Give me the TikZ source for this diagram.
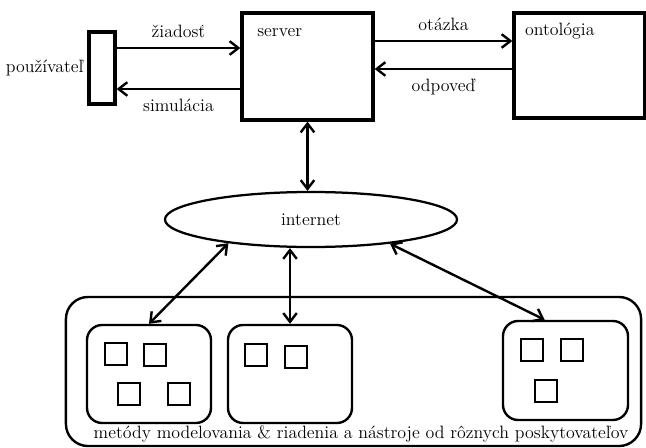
\documentclass[tikz,border=0pt]{standalone}
\usepackage{fontspec}
\usepackage{tikz}
\usetikzlibrary{positioning,shapes,arrows.meta}

\begin{document}
\begin{tikzpicture}[->,>={Straight Barb[length=2.2mm,width=3.4mm]},line width=1.4pt,auto,
          x=0.025cm,y=-0.025cm,font=\fontsize{12.7}{15}\selectfont]
            \tikzstyle{frame}=[draw, line width=2.3pt, inner sep=0pt]
            \tikzstyle{toolbox}=[draw, line width=1.7pt, rounded corners=0.38cm, inner sep=0pt,
                                 minimum width=3.1cm, minimum height=2.45cm]
            \tikzstyle{tool}=[draw, line width=2.1pt, minimum size=0.55cm, inner sep=0pt]
            \tikzstyle{every edge}=[draw, line width=1.7pt]
            \useasboundingbox (0,0) rectangle (646,448);
            % top part
            \node[frame, minimum width=0.65cm, minimum height=1.8cm,
                  label={[inner sep=2pt]left:používateľ}] (user) at (102,68) {};
            \node[frame, minimum width=3.275cm, minimum height=2.675cm,
                  label={[anchor=north west, xshift=8pt, yshift=-8pt]north west:server}] (server) at (307.5,66.5) {};
            \node[frame, minimum width=3.275cm, minimum height=2.625cm,
                  label={[anchor=north west, xshift=5pt, yshift=-4pt]north west:ontológia}] (onto) at (579.5,65.5) {};
            \node[draw, ellipse, line width=1.6pt, inner sep=0pt, minimum width=7.3cm,
                  minimum height=1.375cm] (internet) at (311,219.5) {internet};
            % bottom part
            \node[draw, line width=1.7pt, rounded corners=0.55cm, minimum width=14.375cm,
                  minimum height=3.725cm] (providers) at (353.5,371.5) {};
            \node[toolbox] (box1) at (149,374) {};
            \node[toolbox] (box2) at (290,374) {};
            \node[toolbox, minimum width=3.125cm, minimum height=2.475cm] (box3) at (565.5,370.5) {};
            \node[tool] (t11) at (116,354) {};
            \node[tool] (t12) at (155,355) {};
            \node[tool] (t13) at (129,394) {};
            \node[tool] (t14) at (179,394) {};
            \node[tool] (t21) at (256,355) {};
            \node[tool] (t22) at (296,357) {};
            \node[tool] (t31) at (532,350) {};
            \node[tool] (t32) at (572,350) {};
            \node[tool] (t33) at (546,391) {};
            \node (caption) at (361,434) {metódy modelovania \& riadenia a nástroje od rôznych poskytovateľov};
            % connectors
            \path[every node/.style={inner sep=6.5pt}]
                  (user.east |- 0,48) edge node {žiadosť} (server.west |- 0,48)
                  (server.west |- 0,89) edge node {simulácia} (user.east |- 0,89)
                  (server.east |- 0,41) edge node {otázka} (onto.west |- 0,41)
                  (onto.west |- 0,69) edge node {odpoveď} (server.east |- 0,69)
                  (server.south) edge[<->] (server.south |- internet.north)
                  (internet.196) edge[<->] (box1.north)
                  (internet.south -| box2.north) edge[<->] (box2.north)
                  (internet.343) edge[<->] ([xshift=-0.52cm]box3.north);
        \end{tikzpicture}
\end{document}
